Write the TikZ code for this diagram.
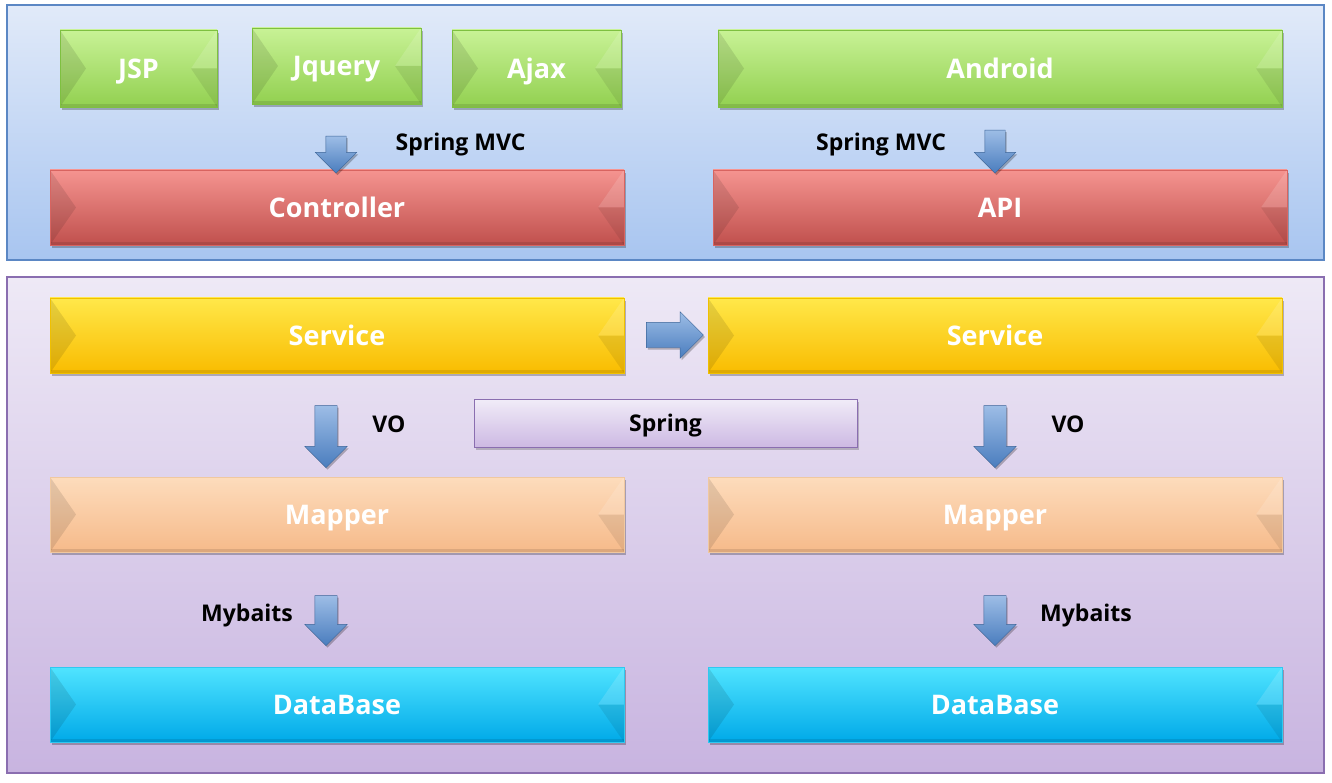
\documentclass[tikz,border=0pt]{standalone}
\usepackage{fontspec}
\setmainfont{Open Sans}
\usetikzlibrary{shapes.arrows,shadows}
\definecolor{topfillA}{HTML}{E1EAF9}
\definecolor{topfillB}{HTML}{A8C5F0}
\definecolor{topline}{HTML}{5B87C4}
\definecolor{botfillA}{HTML}{EEE9F6}
\definecolor{botfillB}{HTML}{C8B4E0}
\definecolor{botline}{HTML}{8A6EB0}
\definecolor{grA}{HTML}{C8F296}\definecolor{grB}{HTML}{92D050}\definecolor{grL}{HTML}{7EC040}
\definecolor{rdA}{HTML}{F59490}\definecolor{rdB}{HTML}{C0504D}\definecolor{rdL}{HTML}{D86460}
\definecolor{ylA}{HTML}{FFE84A}\definecolor{ylB}{HTML}{F9BC00}\definecolor{ylL}{HTML}{F0C000}
\definecolor{pcA}{HTML}{FDDCBC}\definecolor{pcB}{HTML}{F6BA8A}\definecolor{pcL}{HTML}{F0C8A0}
\definecolor{cyA}{HTML}{50E4FF}\definecolor{cyB}{HTML}{00A9E8}\definecolor{cyL}{HTML}{30C8F0}
\definecolor{arA}{HTML}{9DBDE6}\definecolor{arB}{HTML}{4A7DBE}
\definecolor{spA}{HTML}{F1ECF8}\definecolor{spB}{HTML}{CDB9E3}
\tikzset{
  panel/.style={line width=1.2pt},
  bev/.style={path picture={
    \fill[black,opacity=0.10] (path picture bounding box.north west) -- ([xshift=26pt]path picture bounding box.west) -- (path picture bounding box.south west) -- cycle;
    \fill[white,opacity=0.14] (path picture bounding box.north east) -- ([xshift=-26pt]path picture bounding box.east) -- (path picture bounding box.east) -- cycle;
    \fill[black,opacity=0.08] (path picture bounding box.south east) -- ([xshift=-26pt]path picture bounding box.east) -- (path picture bounding box.east) -- cycle;
    \fill[black,opacity=0.10] ([yshift=3pt]path picture bounding box.south west) rectangle (path picture bounding box.south east);
  }},
  blk/.style n args={3}{rectangle, inner sep=0pt, text depth=0pt, top color=#1, middle color=#2, bottom color=#2, draw=#3, line width=0.8pt, bev,
    drop shadow={shadow xshift=2pt, shadow yshift=-3pt, opacity=0.25, fill=black},
    font=\bfseries\fontsize{27}{30}\selectfont, text=white},
  sz/.style 2 args={minimum width=#1pt, minimum height=#2pt},
  lbl/.style={font=\bfseries\fontsize{23}{26}\selectfont, text=black, inner sep=0pt, text depth=0pt},
  barrow/.style={single arrow, inner sep=0pt, single arrow head indent=0pt, draw=arB!80!black, line width=0.4pt,
    top color=arA, bottom color=arB, drop shadow={shadow xshift=1.5pt, shadow yshift=-2pt, opacity=0.25, fill=black}},
}
\begin{document}
\begin{tikzpicture}[x=1pt,y=-1pt]
\useasboundingbox (0,0) rectangle (1332,783);
% panels
\node[panel, draw=topline, top color=topfillA, bottom color=topfillB, inner sep=0pt, minimum width=1317pt, minimum height=255pt] (toppanel) at (665.5,132.5) {};
\node[panel, draw=botline, top color=botfillA, bottom color=botfillB, inner sep=0pt, minimum width=1317pt, minimum height=496pt] (botpanel) at (665.5,525) {};
% top row
\node[blk={grA}{grB}{grL}, sz={157}{77}] (jsp) at (138.5,68.5) {JSP};
\node[blk={grA}{grB}{grL}, sz={169}{76}] (jquery) at (336.5,66) {Jquery};
\node[blk={grA}{grB}{grL}, sz={169}{77}] (ajax) at (536.5,68.5) {Ajax};
\node[blk={grA}{grB}{grL}, sz={564}{77}] (android) at (1000,68.5) {Android};
\node[blk={rdA}{rdB}{rdL}, sz={574}{75}] (controller) at (337,207.5) {Controller};
\node[blk={rdA}{rdB}{rdL}, sz={574}{75}] (api) at (1000,207.5) {API};
% bottom panel
\node[blk={ylA}{ylB}{ylL}, sz={574}{75}] (serviceL) at (337,335.5) {Service};
\node[blk={ylA}{ylB}{ylL}, sz={574}{75}] (serviceR) at (995,335.5) {Service};
\node[blk={pcA}{pcB}{pcL}, sz={574}{75}] (mapperL) at (337,514.5) {Mapper};
\node[blk={pcA}{pcB}{pcL}, sz={574}{75}] (mapperR) at (995,514.5) {Mapper};
\node[blk={cyA}{cyB}{cyL}, sz={574}{75}] (dbL) at (337,704.5) {DataBase};
\node[blk={cyA}{cyB}{cyL}, sz={574}{75}] (dbR) at (995,704.5) {DataBase};
\node[rectangle, draw=botline, line width=1pt, top color=spA, bottom color=spB, minimum width=383pt, minimum height=48pt, inner sep=0pt, text depth=0pt,
  drop shadow={shadow xshift=2pt, shadow yshift=-3pt, opacity=0.2, fill=black},
  font=\bfseries\fontsize{23}{26}\selectfont] (spring) at (665.5,423) {Spring};
% block arrows
\node[barrow, rotate=-90, minimum height=37pt, minimum width=41pt, inner ysep=10pt, single arrow head extend=10.5pt] (a1) at (336,149.5) {};
\node[barrow, rotate=-90, minimum height=43pt, minimum width=41pt, inner ysep=10pt, single arrow head extend=10.5pt] (a2) at (995,146.5) {};
\node[barrow, minimum height=57pt, minimum width=46pt, inner ysep=12.5pt, single arrow head extend=10.5pt] (a3) at (668.5,335) {};
\node[barrow, rotate=-90, minimum height=62pt, minimum width=42pt, inner ysep=11pt, single arrow head extend=10pt] (a4) at (326,431) {};
\node[barrow, rotate=-90, minimum height=62pt, minimum width=42pt, inner ysep=11pt, single arrow head extend=10pt] (a5) at (995,431) {};
\node[barrow, rotate=-90, minimum height=50pt, minimum width=42pt, inner ysep=11pt, single arrow head extend=10pt] (a6) at (326,615) {};
\node[barrow, rotate=-90, minimum height=50pt, minimum width=42pt, inner ysep=11pt, single arrow head extend=10pt] (a7) at (995,615) {};
% labels
\node[lbl] (l1) at (460.5,142) {Spring MVC};
\node[lbl] (l2) at (881,142) {Spring MVC};
\node[lbl] (l3) at (389,424) {VO};
\node[lbl] (l4) at (1068,424) {VO};
\node[lbl] (l5) at (247,613) {Mybaits};
\node[lbl] (l6) at (1086,613) {Mybaits};
\end{tikzpicture}
\end{document}
